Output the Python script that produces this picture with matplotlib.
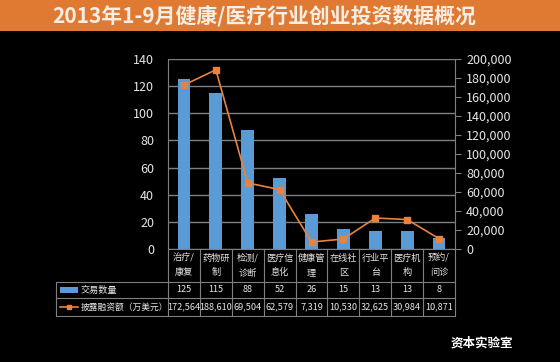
import matplotlib
matplotlib.use('Agg')
from matplotlib import pyplot as plt
from matplotlib.patches import Rectangle
from matplotlib.lines import Line2D
import numpy as np

plt.rcParams['font.family'] = ['Noto Sans CJK SC', 'DejaVu Sans']

title = '2013年1-9月健康/医疗行业创业投资数据概况'
categories = ['治疗/\n康复', '药物研\n制', '检测/\n诊断', '医疗信\n息化', '健康管\n理',
              '在线社\n区', '行业平\n台', '医疗机\n构', '预约/\n问诊']
deals = [125, 115, 88, 52, 26, 15, 13, 13, 8]
funding = [172564, 188610, 69504, 62579, 7319, 10530, 32625, 30984, 10871]
series_names = ['交易数量', '披露融资额（万美元）']

W, H = 560, 362
fig = plt.figure(figsize=[W / 100, H / 100], dpi=100)
fig.patch.set_facecolor('black')

def fx(px):
    return px / W

def fy(py):
    return 1 - py / H

txt = '#e6e6e6'
grid = '#7f7f7f'
blue = '#5b9bd5'
orange = '#e8823f'

# title band
fig.patches.append(Rectangle((0, fy(31)), 1, 31 / H, transform=fig.transFigure,
                             facecolor='#e07a32', edgecolor='none'))
fig.text(fx(264), fy(16), title, color='#f7efe6', fontsize=15, fontweight='bold',
         ha='center', va='center')

left, right, top, bottom = 168, 455, 59, 249
ax = fig.add_axes([fx(left), fy(bottom), fx(right - left), (bottom - top) / H])
ax.set_facecolor('black')
x = np.arange(len(categories))
ax.bar(x, deals, width=0.4, color=blue, zorder=2)
ax.set_xlim(-0.5, len(categories) - 0.5)
ax.set_ylim(0, 140)
ax.set_yticks(range(0, 141, 20))
ax.yaxis.grid(True, color=grid, linewidth=1)
ax.set_axisbelow(True)
ax.tick_params(axis='y', colors=txt, labelsize=9, length=0, pad=10)
ax.tick_params(axis='x', length=0, labelbottom=False)
for s in ['top', 'right', 'bottom']:
    ax.spines[s].set_visible(False)
ax.spines['left'].set_color(grid)

ax2 = ax.twinx()
ax2.plot(x, funding, color=orange, linewidth=1.2, marker='s', markersize=4,
         markerfacecolor=orange, markeredgecolor=orange, zorder=3)
ax2.set_ylim(0, 200000)
ax2.set_yticks(range(0, 200001, 20000))
ax2.set_yticklabels([f'{v:,}' for v in range(0, 200001, 20000)])
ax2.tick_params(axis='y', colors=txt, labelsize=9, length=4, direction='out',
                color=grid, pad=4)
for s in ['top', 'left', 'bottom']:
    ax2.spines[s].set_visible(False)
ax2.spines['right'].set_color(grid)

# data table below the plot
slot = (right - left) / len(categories)
tab_left = 56
r0, r1, r2, r3 = bottom, 282, 298, 316
lw = 0.8
fs = 6.6

def hline(y, x0, x1):
    fig.lines.append(Line2D([fx(x0), fx(x1)], [fy(y), fy(y)], transform=fig.transFigure,
                            color=grid, linewidth=lw))

def vline(xp, y0, y1):
    fig.lines.append(Line2D([fx(xp), fx(xp)], [fy(y0), fy(y1)], transform=fig.transFigure,
                            color=grid, linewidth=lw))

hline(r0, left, right)
for yy in [r1, r2, r3]:
    hline(yy, tab_left, right)
vline(tab_left, r1, r3)
for i in range(len(categories) + 1):
    vline(left + i * slot, r0, r3)

for i, c in enumerate(categories):
    cx = fx(left + (i + 0.5) * slot)
    fig.text(cx, fy((r0 + r1) / 2), c, color=txt, fontsize=fs, ha='center',
             va='center', linespacing=1.8)
    fig.text(cx, fy((r1 + r2) / 2), f'{deals[i]}', color=txt, fontsize=fs,
             ha='center', va='center')
    fig.text(cx, fy((r2 + r3) / 2), f'{funding[i]:,}', color=txt, fontsize=fs,
             ha='center', va='center')

# legend keys in the table
fig.patches.append(Rectangle((fx(60), fy(293)), fx(18), 6 / H, transform=fig.transFigure,
                             facecolor=blue, edgecolor='none'))
fig.text(fx(81), fy((r1 + r2) / 2), series_names[0], color=txt, fontsize=fs,
         ha='left', va='center')
fig.lines.append(Line2D([fx(60), fx(78)], [fy(307), fy(307)], transform=fig.transFigure,
                        color=orange, linewidth=1.2))
fig.lines.append(Line2D([fx(69)], [fy(307)], transform=fig.transFigure, color=orange,
                        marker='s', markersize=3, linestyle='none'))
fig.text(fx(81), fy((r2 + r3) / 2), series_names[1], color=txt, fontsize=6.3,
         ha='left', va='center')

# logo text
fig.text(fx(482), fy(343), '资本实验室', color='white', fontsize=9, fontweight='bold',
         ha='center', va='center')

fig.savefig('out.png', dpi=100, facecolor='black')
